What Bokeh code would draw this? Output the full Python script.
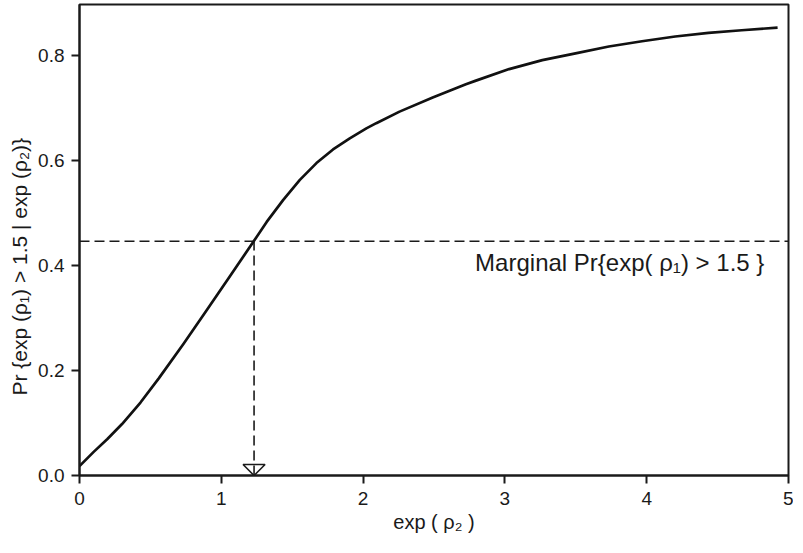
from bokeh.plotting import figure
from bokeh.models import Range1d, FixedTicker, Label, Title
from bokeh.embed import file_html
from bokeh.resources import INLINE

# ---- data ----
exp_rho2 = [0.0, 0.1, 0.195, 0.3, 0.43, 0.559, 0.734, 0.898, 1.062, 1.231, 1.32, 1.437,
            1.554, 1.671, 1.788, 1.906, 2.023, 2.093, 2.257, 2.491, 2.725, 2.796,
            3.03, 3.264, 3.498, 3.733, 3.967, 4.201, 4.436, 4.67, 4.923]
pr_cond = [0.018, 0.045, 0.069, 0.098, 0.139, 0.185, 0.251, 0.315, 0.380, 0.447, 0.483, 0.525,
           0.563, 0.595, 0.621, 0.642, 0.661, 0.671, 0.693, 0.720, 0.745, 0.752,
           0.774, 0.791, 0.804, 0.817, 0.827, 0.836, 0.843, 0.848, 0.853]
marginal_pr = 0.446
x_cross = 1.231
x_ticks = [0, 1, 2, 3, 4, 5]
x_tick_labels = ["0", "1", "2", "3", "4", "5"]
y_ticks = [0.0, 0.2, 0.4, 0.6, 0.8]
y_tick_labels = ["0.0", "0.2", "0.4", "0.6", "0.8"]
x_label = "exp ( ρ₂ )"
y_label = "Pr {exp (ρ₁) > 1.5 | exp (ρ₂)}"
marginal_text = "Marginal Pr{exp( ρ₁) > 1.5 }"

FONT = "Liberation Sans"
INK = "#1a1a1a"

X_MAX = 5.0
Y_MAX = 0.897

W, H = 793, 537
B_LEFT, B_RIGHT, B_TOP, B_BOTTOM = 78, 5, 4, 62

p = figure(width=W, height=H, output_backend="svg", toolbar_location=None,
           x_range=Range1d(0, X_MAX), y_range=Range1d(0, Y_MAX),
           min_border_left=B_LEFT, min_border_right=B_RIGHT,
           min_border_top=B_TOP, min_border_bottom=B_BOTTOM)
p.grid.visible = False
p.background_fill_color = "white"
p.border_fill_color = "white"
p.outline_line_color = INK
p.outline_line_width = 2

for ax in (p.xaxis[0], p.yaxis[0]):
    ax.axis_line_color = INK
    ax.axis_line_width = 2
    ax.major_tick_line_color = INK
    ax.major_tick_line_width = 2
    ax.major_tick_out = 8
    ax.major_tick_in = 0
    ax.minor_tick_line_color = None
    ax.major_label_text_font = FONT
    ax.major_label_text_font_size = "19px"
    ax.major_label_text_color = INK
    ax.axis_label_text_font = FONT
    ax.axis_label_text_font_style = "normal"
    ax.axis_label_text_color = INK

p.xaxis.axis_label_text_font_size = "20px"
p.xaxis.ticker = FixedTicker(ticks=x_ticks)
p.xaxis.major_label_overrides = {t: s for t, s in zip(x_ticks, x_tick_labels)}
p.yaxis.ticker = FixedTicker(ticks=y_ticks)
p.yaxis.major_label_overrides = {t: s for t, s in zip(y_ticks, y_tick_labels)}
p.xaxis.axis_label = x_label
p.xaxis.major_label_standoff = 8
p.xaxis.axis_label_standoff = 3
p.yaxis.major_label_standoff = 7

# y-axis title as a side title so it can sit a little below the frame centre
p.add_layout(Title(text=y_label, align="left", offset=80, standoff=10,
                   text_font=FONT, text_font_size="21px", text_font_style="normal",
                   text_color=INK), "left")

# marginal probability (horizontal dashed)
p.line([0, X_MAX], [marginal_pr, marginal_pr], line_color=INK, line_width=1.6, line_dash="10 5")
# vertical dashed drop line
p.line([x_cross, x_cross], [0, marginal_pr], line_color=INK, line_width=1.6, line_dash="10 5")

# open downward triangle at the axis (size in pixels converted to data units)
frame_w = W - B_LEFT - B_RIGHT
frame_h = H - B_TOP - B_BOTTOM
half_w = 11 * X_MAX / frame_w
tri_h = 11 * Y_MAX / frame_h
p.patch([x_cross - half_w, x_cross + half_w, x_cross], [tri_h, tri_h, 0],
        fill_color=None, line_color=INK, line_width=1.6)

# conditional probability curve
p.line(exp_rho2, pr_cond, line_color="#111111", line_width=2.7, line_join="round")

p.add_layout(Label(x=2.79, y=0.405, text=marginal_text, text_font=FONT,
                   text_font_size="24px", text_color=INK, text_baseline="middle",
                   text_align="left"))

open("out.html", "w").write(file_html(p, INLINE))
